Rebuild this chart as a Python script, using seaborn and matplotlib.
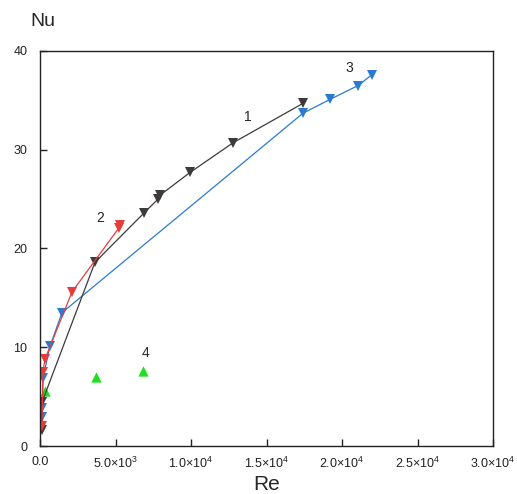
import matplotlib
matplotlib.use("Agg")
import matplotlib.pyplot as plt
import seaborn as sns
import pandas as pd

# Series data
re1 = [100, 150, 3640, 6890, 7815, 7950, 9934, 12780, 17417]
nu1 = [1.6, 4.5, 18.6, 23.6, 25.0, 25.4, 27.7, 30.7, 34.7]

re2 = [130, 200, 330, 2119, 5232, 5300]
nu2 = [2.0, 7.5, 8.8, 15.6, 22.1, 22.4]

re3 = [130, 150, 200, 662, 1457, 17417, 19205, 21060, 21986, 21986]
nu3 = [2.9, 3.8, 6.9, 10.1, 13.5, 33.7, 35.1, 36.5, 37.4, 37.8]

re4 = [331, 3709, 6821]
nu4 = [5.6, 7.0, 7.6]

xticks = [0, 5000, 10000, 15000, 20000, 25000, 30000]
xtick_labels = ["0.0", r"5.0$\times$10$^3$", r"1.0$\times$10$^4$", r"1.5$\times$10$^4$",
                r"2.0$\times$10$^4$", r"2.5$\times$10$^4$", r"3.0$\times$10$^4$"]
yticks = [0, 10, 20, 30, 40]

sns.set_style("ticks")
plt.rcParams["font.family"] = ["Liberation Sans", "DejaVu Sans"]
plt.rcParams["mathtext.fontset"] = "custom"
plt.rcParams["mathtext.rm"] = "Liberation Sans"

fig = plt.figure(figsize=(5.17, 4.94), dpi=100)
ax = fig.add_axes([40/517, 48/494, 453/517, 395/494])

c1, c2, c3, c4 = "#3e3a3a", "#e53c3c", "#2a7ad2", "#1fe01f"

d1 = pd.DataFrame({"Re": re1, "Nu": nu1})
d2 = pd.DataFrame({"Re": re2, "Nu": nu2})
d3 = pd.DataFrame({"Re": re3, "Nu": nu3})
d4 = pd.DataFrame({"Re": re4, "Nu": nu4})

for d, c in [(d3, c3), (d1, c1), (d2, c2)]:
    sns.lineplot(data=d, x="Re", y="Nu", ax=ax, color=c, sort=False, linewidth=0.9,
                 marker="v", markersize=7, markeredgewidth=0, markeredgecolor=c)
sns.scatterplot(data=d4, x="Re", y="Nu", ax=ax, color=c4, marker="^", s=55, linewidth=0)

ax.set_xlim(0, 30000)
ax.set_ylim(0, 40)
ax.set_xticks(xticks)
ax.set_xticklabels(xtick_labels)
ax.set_yticks(yticks)
ax.tick_params(direction="in", length=5, width=1, labelsize=9, colors="#222222")
ax.tick_params(axis="x", pad=7)
ax.tick_params(axis="y", pad=9)
for s in ax.spines.values():
    s.set_linewidth(1.0)
    s.set_color("#222222")

ax.set_xlabel("Re", fontsize=15, labelpad=3)
ax.set_ylabel("")
fig.text(30/517, 1 - 22/494, "Nu", fontsize=14, va="center", ha="left")

ax.text(13775, 33.3, "1", fontsize=10, ha="center", va="center")
ax.text(3974, 23.1, "2", fontsize=10, ha="center", va="center")
ax.text(20464, 38.3, "3", fontsize=10, ha="center", va="center")
ax.text(6954, 9.4, "4", fontsize=10, ha="center", va="center")

fig.savefig("out.png", dpi=100)
